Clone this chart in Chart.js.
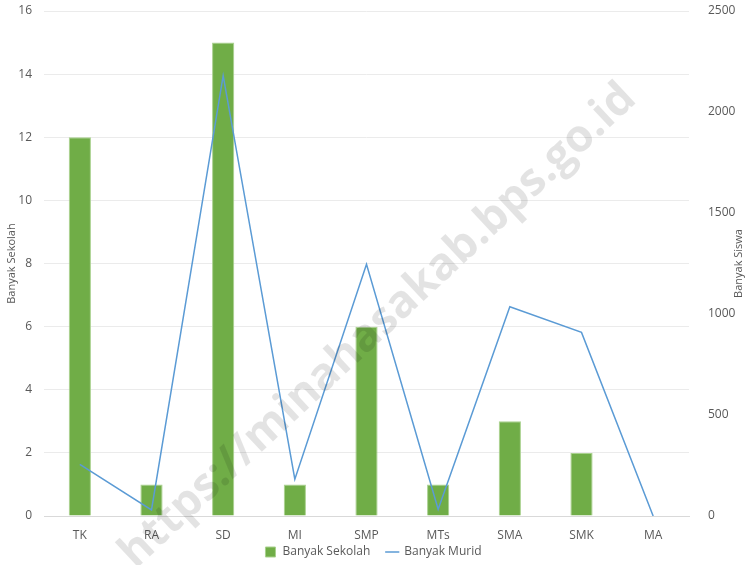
<!DOCTYPE html>
<html>
<head>
<meta charset="utf-8">
<script src="https://cdn.jsdelivr.net/npm/chart.js@4/dist/chart.umd.min.js"></script>
<style>
html,body{margin:0;padding:0;background:#fff;}
#wrap{width:746px;height:565px;position:relative;}
</style>
</head>
<body>
<div id="wrap"><canvas id="c"></canvas></div>
<script>
const categories = ["TK","RA","SD","MI","SMP","MTs","SMA","SMK","MA"];
const banyakSekolah = [12,1,15,1,6,1,3,2,0];
const banyakMurid = [256,30,2180,182,1246,33,1036,909,0];
const leftTicks = [0,2,4,6,8,10,12,14,16];
const rightTicks = [0,500,1000,1500,2000,2500];
const rightTitle = "Banyak Siswa";
const watermarkText = "https://minahasakab.bps.go.id";

const LEGEND_H = 24, LEGEND_SHIFT = 11;

const extras = {
  id:'extras',
  beforeLayout(chart){
    const lg = chart.legend;
    if(lg && !lg._patched){
      const f = lg.fit.bind(lg);
      lg.fit = function(){ f(); this.height = LEGEND_H; };
      const d = lg.draw.bind(lg);
      lg.draw = function(){
        const t = this.top;
        this.top = t - LEGEND_SHIFT;
        d();
        this.top = t;
      };
      lg._patched = true;
    }
  },
  afterDraw(chart){
    const ctx = chart.ctx;
    const ca = chart.chartArea;
    ctx.save();
    ctx.translate(739,(ca.top+ca.bottom)/2);
    ctx.rotate(-Math.PI/2);
    ctx.font = '11px "Open Sans", sans-serif';
    ctx.fillStyle = '#595959';
    ctx.textAlign = 'center';
    ctx.textBaseline = 'middle';
    ctx.fillText(rightTitle,0,0);
    ctx.restore();

    ctx.save();
    ctx.translate(378,326);
    ctx.rotate(-43*Math.PI/180);
    ctx.font = 'bold 45px "Open Sans", sans-serif';
    ctx.fillStyle = 'rgba(0,0,0,0.11)';
    ctx.textAlign = 'center';
    ctx.textBaseline = 'middle';
    ctx.fillText(watermarkText,0,0);
    ctx.restore();
  }
};

Chart.defaults.font.family = '"Open Sans", sans-serif';
Chart.defaults.color = '#595959';

function noVPad(s){ s.paddingTop = 0; s.paddingBottom = 0; }

new Chart(document.getElementById('c'),{
  data:{
    labels:categories,
    datasets:[
      {type:'line',label:'Banyak Murid',data:banyakMurid,yAxisID:'y1',
       borderColor:'#5B9BD5',backgroundColor:'#5B9BD5',borderWidth:1.5,
       pointRadius:0,tension:0,pointStyle:'line',order:0},
      {type:'bar',label:'Banyak Sekolah',data:banyakSekolah,yAxisID:'y',
       backgroundColor:'#70AD47',borderColor:'#A9D18E',borderWidth:1,
       categoryPercentage:1,barPercentage:0.31,pointStyle:'rect',order:1}
    ]
  },
  options:{
    responsive:true,maintainAspectRatio:false,animation:false,
    layout:{padding:{left:0,right:0,top:11,bottom:0}},
    plugins:{
      legend:{position:'bottom',reverse:true,
        labels:{usePointStyle:true,boxWidth:12,boxHeight:10,padding:16,
          font:{size:12},color:'#595959'}},
      tooltip:{enabled:false}
    },
    scales:{
      x:{grid:{display:false,drawTicks:false},border:{color:'#d9d9d9'},
         afterFit(s){s.height=25; s.paddingLeft=0; s.paddingRight=0;},
         ticks:{font:{size:12},color:'#595959',padding:12,maxRotation:0}},
      y:{position:'left',min:0,max:16,
         afterBuildTicks(a){a.ticks=leftTicks.map(v=>({value:v}));},
         afterFit(s){s.width=44; noVPad(s);},
         grid:{color:'#ebebeb',drawTicks:false},border:{display:false},
         ticks:{font:{size:12},color:'#595959',padding:12},
         title:{display:true,text:'Banyak Sekolah',font:{size:11},color:'#595959',padding:{top:5,bottom:0}}},
      y1:{position:'right',min:0,max:2500,
         afterBuildTicks(a){a.ticks=rightTicks.map(v=>({value:v}));},
         afterFit(s){s.width=57; noVPad(s);},
         grid:{display:false},border:{display:false},
         ticks:{font:{size:12},color:'#595959',padding:11,callback:v=>String(v)}}
    }
  },
  plugins:[extras]
});
</script>
</body>
</html>
